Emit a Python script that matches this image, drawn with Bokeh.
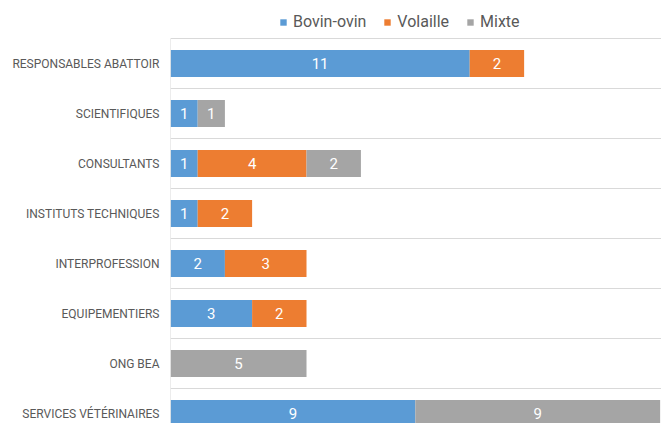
from bokeh.plotting import figure
from bokeh.models import ColumnDataSource, Range1d, FixedTicker, Legend, LegendItem
from bokeh.core.properties import value
from bokeh.embed import file_html
from bokeh.resources import INLINE

categories = ["RESPONSABLES ABATTOIR", "SCIENTIFIQUES", "CONSULTANTS", "INSTITUTS TECHNIQUES",
              "INTERPROFESSION", "EQUIPEMENTIERS", "ONG BEA", "SERVICES VÉTÉRINAIRES"]
bovin = [11, 1, 1, 1, 2, 3, 0, 9]
volaille = [2, 0, 4, 2, 3, 2, 0, 0]
mixte = [0, 1, 2, 0, 0, 0, 5, 9]
series = ["Bovin-ovin", "Volaille", "Mixte"]
colors = ["#5B9BD5", "#ED7D31", "#A5A5A5"]

ypos = list(range(len(categories)))
source = ColumnDataSource(dict(y=ypos, bovin=bovin, volaille=volaille, mixte=mixte))

p = figure(width=661, height=423, output_backend="svg", toolbar_location=None,
           x_range=Range1d(0, 18.05), y_range=Range1d(7.2, -1.26),
           min_border_left=170, min_border_right=0, min_border_bottom=0, min_border_top=0)
p.outline_line_color = None
p.xaxis.visible = False
p.xgrid.visible = False

rs = p.hbar_stack(["bovin", "volaille", "mixte"], y="y", height=0.54, color=colors,
                  line_color=None, source=source)

# axis line (from top band edge down)
p.segment(x0=[0], y0=[-0.5], x1=[0], y1=[7.2], line_color="#D9D9D9", line_width=1)

# data labels
lx, ly, lt = [], [], []
for i in range(len(categories)):
    left = 0
    for vals in (bovin, volaille, mixte):
        v = vals[i]
        if v:
            lx.append(left + v / 2)
            ly.append(ypos[i])
            lt.append(str(v))
        left += v
p.text(x=lx, y=ly, text=lt, text_align="center", text_baseline="middle",
       text_color="white", text_font=value("Roboto"), text_font_size="15px")

yax = p.yaxis[0]
yax.ticker = FixedTicker(ticks=ypos)
yax.major_label_overrides = {i: c for i, c in zip(ypos, categories)}
yax.major_label_text_font = "Roboto"
yax.major_label_text_font_size = "12px"
yax.major_label_text_color = "#595959"
yax.major_label_standoff = 5
yax.major_tick_line_color = None
yax.minor_tick_line_color = None
yax.axis_line_color = None

p.ygrid.ticker = FixedTicker(ticks=[i - 0.5 for i in range(len(categories))])
p.ygrid.grid_line_color = "#D9D9D9"

legend = Legend(items=[LegendItem(label=s, renderers=[r]) for s, r in zip(series, rs)],
                orientation="horizontal", location=(109, 392))
legend.label_text_font = "Roboto"
legend.label_text_font_size = "16px"
legend.label_text_color = "#595959"
legend.glyph_width = 8
legend.glyph_height = 8
legend.label_standoff = 6
legend.spacing = 17
legend.padding = 4
legend.margin = 0
legend.border_line_color = None
legend.background_fill_alpha = 0
p.add_layout(legend)

open("out.html", "w").write(file_html(p, INLINE))
